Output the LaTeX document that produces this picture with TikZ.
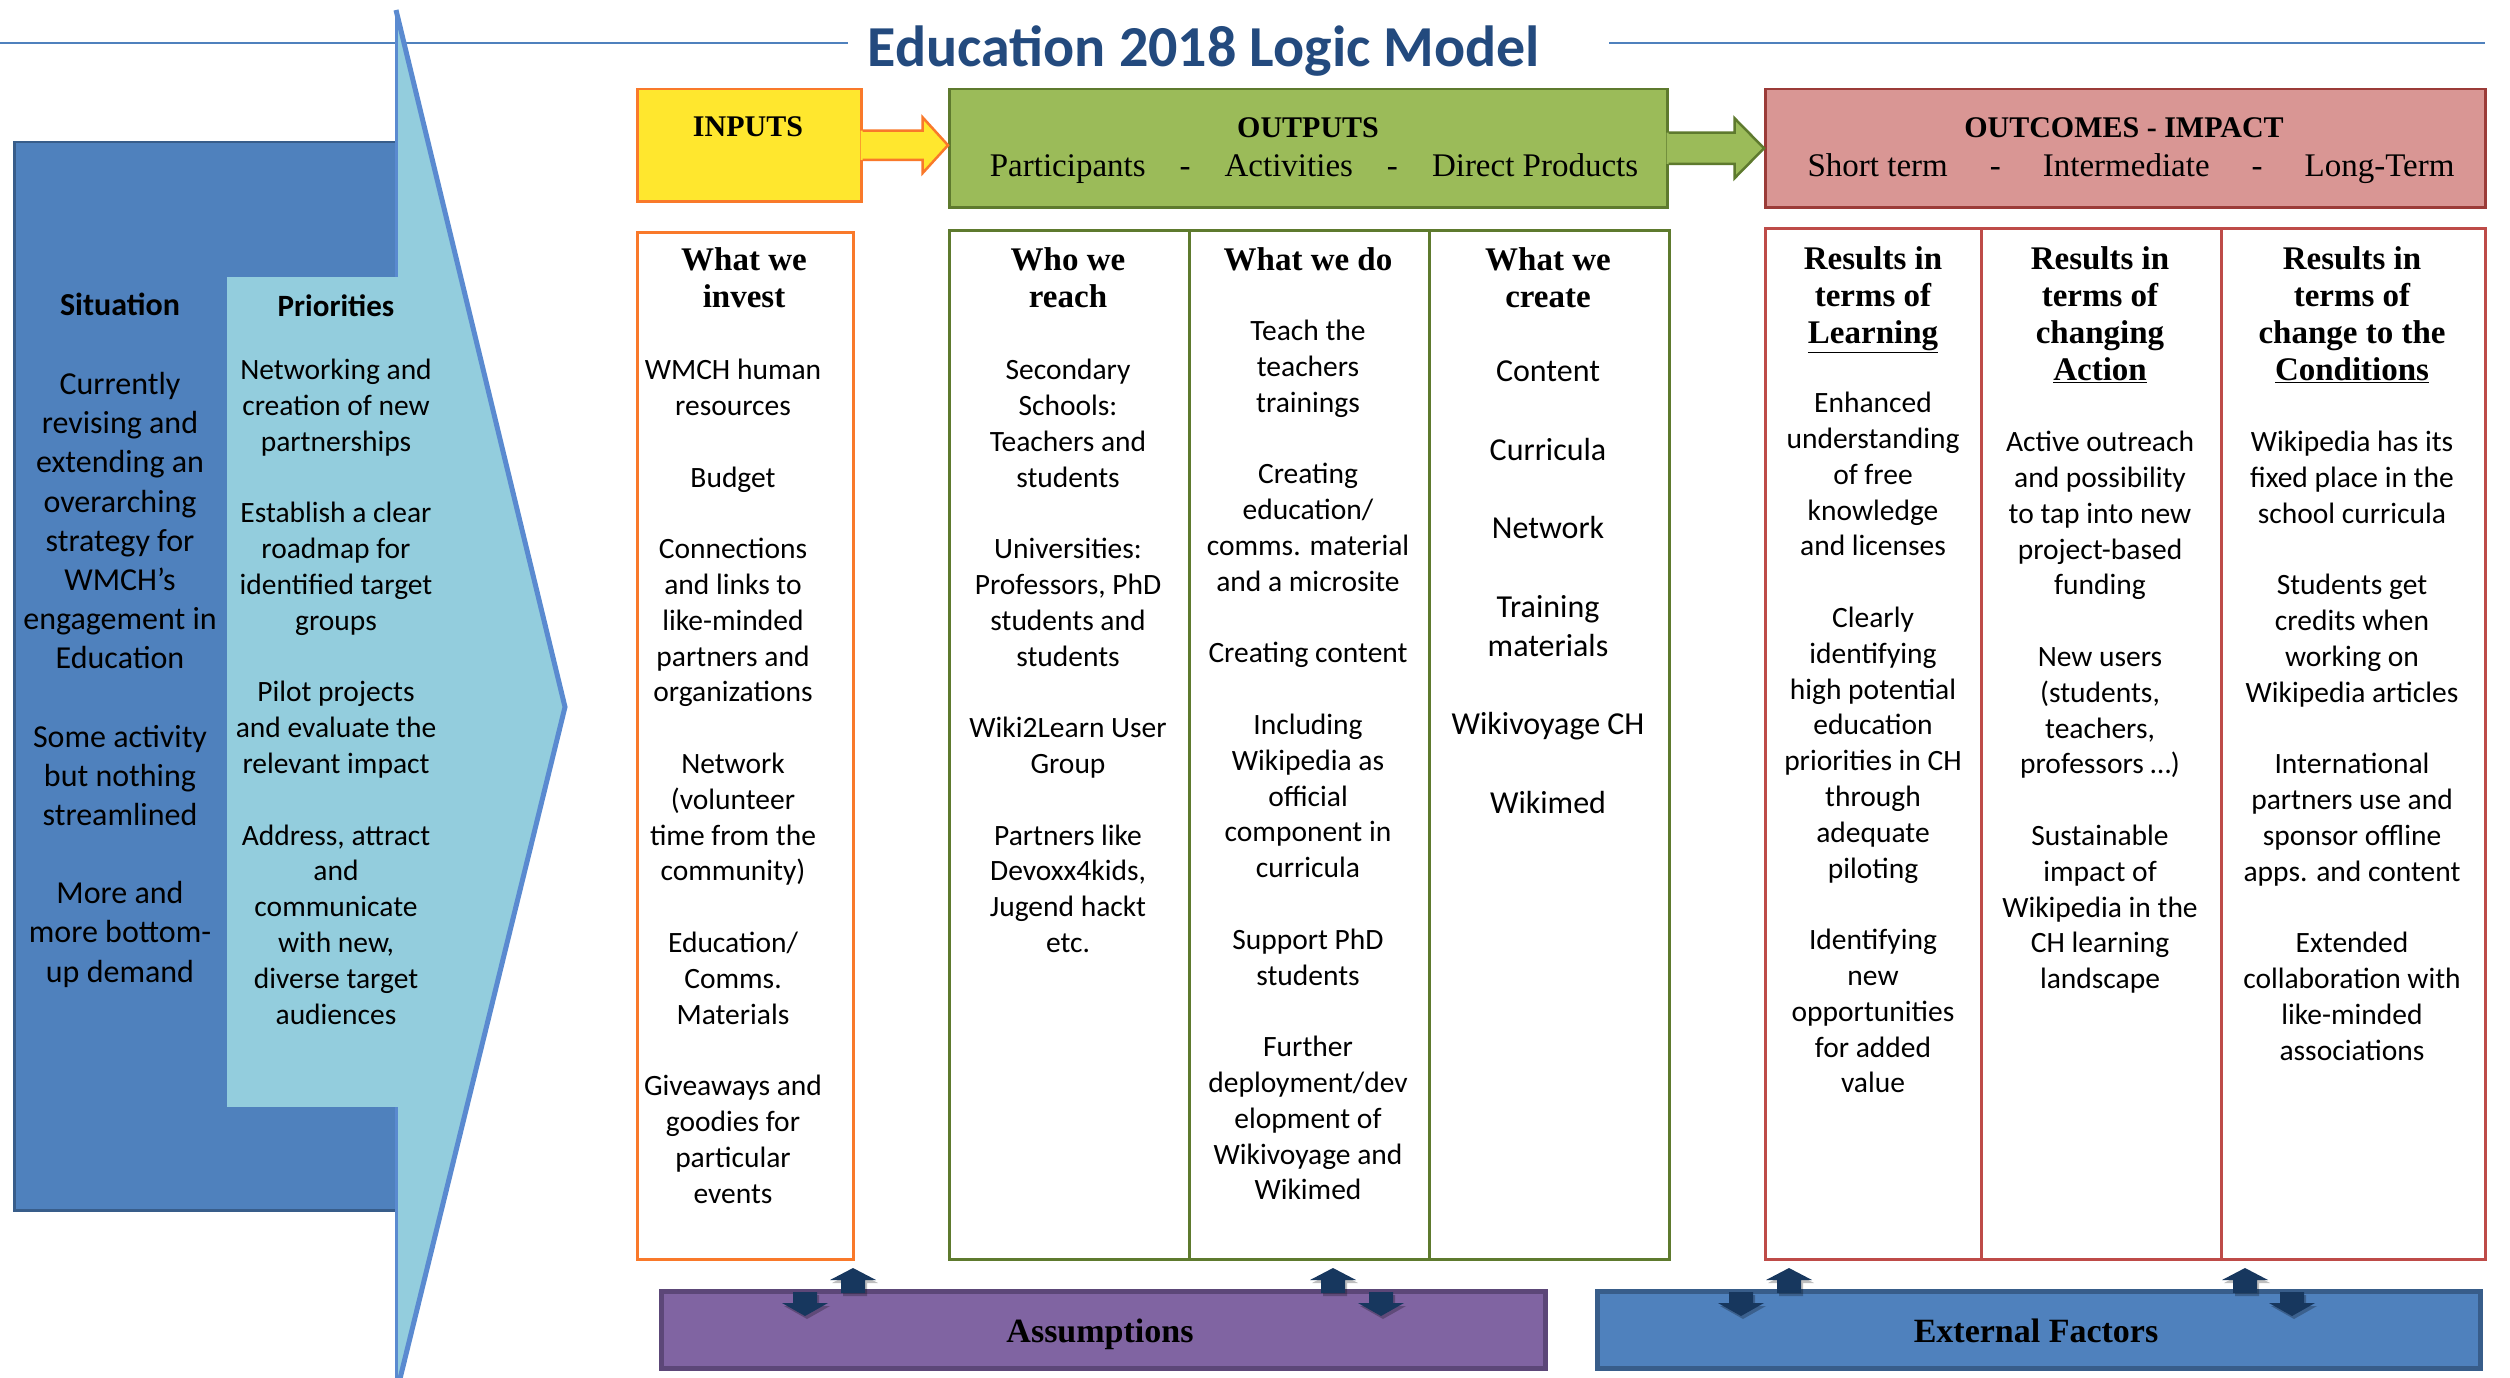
\documentclass[tikz,border=0pt]{standalone}
\usepackage{fontspec}
\setmainfont{Carlito}
\newfontfamily\serifhd{Liberation Serif}
\usetikzlibrary{calc}
\definecolor{titleblue}{HTML}{234A7E}
\definecolor{lineblue}{HTML}{4F81BD}
\definecolor{darkblueF}{HTML}{4F81BD}
\definecolor{darkblueB}{HTML}{385D8A}
\definecolor{lightblueF}{HTML}{93CDDD}
\definecolor{chevB}{HTML}{5A8AD0}
\definecolor{yellowF}{HTML}{FFE72E}
\definecolor{orangeB}{HTML}{F9792A}
\definecolor{greenF}{HTML}{9BBB59}
\definecolor{greenB}{HTML}{5E7A2E}
\definecolor{redF}{HTML}{D99694}
\definecolor{redB}{HTML}{9B3B38}
\definecolor{redC}{HTML}{BE4B48}
\definecolor{purpleF}{HTML}{8064A2}
\definecolor{purpleB}{HTML}{5C4778}
\definecolor{navyA}{HTML}{17375E}
\tikzset{
  body/.style={align=center, inner sep=0pt, anchor=north, font=\fontsize{29.5}{35.8}\selectfont},
  bodyL/.style={align=center, inner sep=0pt, anchor=north, font=\fontsize{32}{39.2}\selectfont},
  colhead/.style={align=center, inner sep=0pt, anchor=north, font=\serifhd\bfseries\fontsize{33}{37}\selectfont},
  hdr/.style={inner sep=0pt, anchor=base, font=\serifhd\bfseries\fontsize{30}{36}\selectfont},
  subhdr/.style={inner sep=0pt, anchor=base, font=\serifhd\fontsize{33}{40}\selectfont},
  boxA/.style={draw, anchor=north west, inner sep=0pt, line width=2.5pt},
  upblk/.pic={
    \fill[black, opacity=0.25] (-10,3) -- (-10,-10) -- (-21,-10) -- (2,-22) -- (25,-10) -- (14,-10) -- (14,3) -- cycle;
    \fill[navyA] (-12,0) -- (-12,-13) -- (-23,-13) -- (0,-25) -- (23,-13) -- (12,-13) -- (12,0) -- cycle;},
  downblk/.pic={
    \fill[black, opacity=0.25] (-10,3) -- (-10,14) -- (-21,14) -- (2,27) -- (25,14) -- (14,14) -- (14,3) -- cycle;
    \fill[navyA] (-12,0) -- (-12,11) -- (-23,11) -- (0,24) -- (23,11) -- (12,11) -- (12,0) -- cycle;}
}
\begin{document}
\begin{tikzpicture}[x=1pt,y=-1pt]
\useasboundingbox[fill=white] (0,0) rectangle (2510,1378);

% title
\node[inner sep=0pt, anchor=base, text=titleblue, font=\bfseries\fontsize{58}{66}\selectfont] (title) at (1204,67) {Education 2018 Logic Model};
\draw[lineblue, line width=2.5pt] (0,43) -- (848,43);
\draw[lineblue, line width=2.5pt] (1609,43) -- (2485,43);

% situation + priorities chevron
\node[boxA, fill=darkblueF, draw=darkblueB, minimum width=382pt, minimum height=1068pt] (situation) at (13,141) {};
\fill[lightblueF] (396,10) -- (565,707) -- (396,1395) -- cycle;
\draw[chevB, line width=5pt, line join=miter] (396,10) -- (565,707) -- (396,1395);
\draw[chevB, line width=3pt] (396,10) -- (396,1395);
\node[anchor=north west, inner sep=0pt, fill=lightblueF, minimum width=218pt, minimum height=830pt] (prio) at (227,277) {};

\node[inner sep=0pt, font=\bfseries\fontsize{32}{39}\selectfont] (sitT) at (120,304) {Situation};
\node[bodyL] (sitB) at (120,372) {Currently\\revising and\\extending an\\overarching\\strategy for\\WMCH’s\\engagement in\\Education\\[39pt]Some activity\\but nothing\\streamlined\\[39pt]More and\\more bottom-\\up demand};
\node[inner sep=0pt, font=\bfseries\fontsize{31}{38}\selectfont] (prioT) at (336,306) {Priorities};
\node[body] (prioB) at (336,359) {Networking and\\creation of new\\partnerships\\[35.8pt]Establish a clear\\roadmap for\\identified target\\groups\\[35.8pt]Pilot projects\\and evaluate the\\relevant impact\\[35.8pt]Address, attract\\and\\communicate\\with new,\\diverse target\\audiences};

% header boxes
\node[boxA, fill=yellowF, draw=orangeB, minimum width=224pt, minimum height=112pt] (inputs) at (636,88) {};
\node[boxA, fill=greenF, draw=greenB, minimum width=718pt, minimum height=118pt] (outputs) at (948,88) {};
\node[boxA, fill=redF, draw=redB, minimum width=720pt, minimum height=118pt] (outcomes) at (1764,88) {};

% block arrows
\fill[yellowF] ($(inputs.east)+(-2,-14.5)$) -- ++(62,0) -- ++(0,-13.5) -- (outputs.west |- inputs.east) -- ($(inputs.east)+(60,28)$) -- ++(0,-13.5) -- ($(inputs.east)+(-2,14.5)$) -- cycle;
\draw[orangeB, line width=2.5pt] ($(inputs.east)+(0,-14.5)$) -- ++(60,0) -- ++(0,-13.5) -- (outputs.west |- inputs.east) -- ($(inputs.east)+(60,28)$) -- ++(0,-13.5) -- ($(inputs.east)+(0,14.5)$);
\fill[greenF] ($(outputs.east)+(-2,-15.5)$) -- ++(68,0) -- ++(0,-14.5) -- (outcomes.west) -- ($(outputs.east)+(66,30)$) -- ++(0,-14.5) -- ($(outputs.east)+(-2,15.5)$) -- cycle;
\draw[greenB, line width=2.5pt] ($(outputs.east)+(0,-15.5)$) -- ++(66,0) -- ++(0,-14.5) -- (outcomes.west) -- ($(outputs.east)+(66,30)$) -- ++(0,-14.5) -- ($(outputs.east)+(0,15.5)$);

\node[hdr] (inT) at (748,136) {INPUTS};
\node[hdr] (outT) at (1308,138) {OUTPUTS};
\node[subhdr] (outS) at (1314,176) {Participants\hspace{34pt}-\hspace{34pt}Activities\hspace{34pt}-\hspace{34pt}Direct Products};
\node[hdr] (ocT) at (2124,138) {OUTCOMES - IMPACT};
\node[subhdr] (ocS) at (2131,176) {Short term\hspace{42pt}-\hspace{42pt}Intermediate\hspace{42pt}-\hspace{42pt}Long-Term};

% column boxes
\node[boxA, draw=orangeB, minimum width=216pt, minimum height=1027pt] (colIn) at (636,231) {};
\node[boxA, draw=greenB, minimum width=240pt, minimum height=1029pt] (colWho) at (948,229) {};
\node[boxA, draw=greenB, minimum width=240pt, minimum height=1029pt] (colDo) at (1188,229) {};
\node[boxA, draw=greenB, minimum width=240pt, minimum height=1029pt] (colCr) at (1428,229) {};
\node[boxA, draw=redC, minimum width=216pt, minimum height=1031pt] (colLe) at (1764,227) {};
\node[boxA, draw=redC, minimum width=240pt, minimum height=1031pt] (colAc) at (1980,227) {};
\node[boxA, draw=redC, minimum width=264pt, minimum height=1031pt] (colCo) at (2220,227) {};

% column headings
\node[colhead] (hIn) at (744,247) {What we\\invest};
\node[colhead] (hWho) at (1068,247) {Who we\\reach};
\node[colhead] (hDo) at (1308,247) {What we do};
\node[colhead] (hCr) at (1548,247) {What we\\create};
\node[colhead] (hLe) at (1873,246) {Results in\\terms of\\\underline{Learning}};
\node[colhead] (hAc) at (2100,246) {Results in\\terms of\\changing\\\underline{Action}};
\node[colhead] (hCo) at (2352,246) {Results in\\terms of\\change to the\\\underline{Conditions}};

% column bodies
\node[body] (bIn) at (733,359) {WMCH human\\resources\\[35.8pt]Budget\\[35.8pt]Connections\\and links to\\like-minded\\partners and\\organizations\\[35.8pt]Network\\(volunteer\\time from the\\community)\\[35.8pt]Education/\\Comms.\\Materials\\[35.8pt]Giveaways and\\goodies for\\particular\\events};
\node[body] (bWho) at (1068,359) {Secondary\\Schools:\\Teachers and\\students\\[35.8pt]Universities:\\Professors, PhD\\students and\\students\\[35.8pt]Wiki2Learn User\\Group\\[35.8pt]Partners like\\Devoxx4kids,\\Jugend hackt\\etc.};
\node[body] (bDo) at (1308,320) {Teach the\\teachers\\trainings\\[35.8pt]Creating\\education/\\comms. material\\and a microsite\\[35.8pt]Creating content\\[35.8pt]Including\\Wikipedia as\\official\\component in\\curricula\\[35.8pt]Support PhD\\students\\[35.8pt]Further\\deployment/dev\\elopment of\\Wikivoyage and\\Wikimed};
\node[bodyL] (bCr) at (1548,361) {Content\\[39.2pt]Curricula\\[39.2pt]Network\\[39.2pt]Training\\materials\\[39.2pt]Wikivoyage CH\\[39.2pt]Wikimed};
\node[body] (bLe) at (1873,392) {Enhanced\\understanding\\of free\\knowledge\\and licenses\\[35.8pt]Clearly\\identifying\\high potential\\education\\priorities in CH\\through\\adequate\\piloting\\[35.8pt]Identifying\\new\\opportunities\\for added\\value};
\node[body] (bAc) at (2100,431) {Active outreach\\and possibility\\to tap into new\\project-based\\funding\\[35.8pt]New users\\(students,\\teachers,\\professors …)\\[35.8pt]Sustainable\\impact of\\Wikipedia in the\\CH learning\\landscape};
\node[body] (bCo) at (2352,431) {Wikipedia has its\\fixed place in the\\school curricula\\[35.8pt]Students get\\credits when\\working on\\Wikipedia articles\\[35.8pt]International\\partners use and\\sponsor offline\\apps. and content\\[35.8pt]Extended\\collaboration with\\like-minded\\associations};

% bottom boxes
\node[boxA, fill=purpleF, draw=purpleB, line width=5pt, minimum width=884pt, minimum height=77pt] (assump) at (659,1289) {};
\node[boxA, fill=darkblueF, draw=darkblueB, line width=5pt, minimum width=883pt, minimum height=77pt] (extf) at (1595,1289) {};
\node[hdr, font=\serifhd\bfseries\fontsize{34}{40}\selectfont] (assT) at (1100,1342) {Assumptions};
\node[hdr, font=\serifhd\bfseries\fontsize{34}{40}\selectfont] (extT) at (2036,1342) {External Factors};

% interaction arrows
\pic at (853,1293) {upblk};
\pic at (805,1292) {downblk};
\pic at (1333,1293) {upblk};
\pic at (1381,1292) {downblk};
\pic at (1789,1293) {upblk};
\pic at (1741,1292) {downblk};
\pic at (2245,1293) {upblk};
\pic at (2292,1292) {downblk};
\end{tikzpicture}
\end{document}
